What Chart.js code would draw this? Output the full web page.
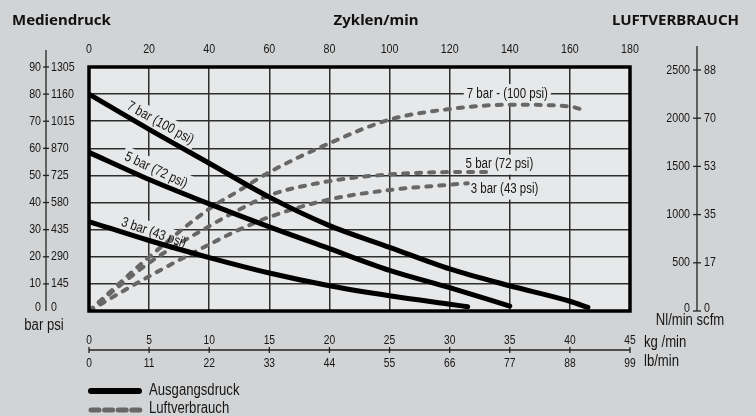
<!DOCTYPE html>
<html>
<head>
<meta charset="utf-8">
<script src="https://cdn.jsdelivr.net/npm/chart.js@4.4.0/dist/chart.umd.min.js"></script>
<style>
  html, body { margin: 0; padding: 0; background: #d2d3d5; }
  #wrap { width: 756px; height: 416px; }
</style>
</head>
<body>
<div id="wrap"><canvas id="pumpChart" width="756" height="416"></canvas></div>
<script>
// Ausgangsdruck (bar) over Zyklen/min, one pair per drive pressure
const cycles7 = [0, 20, 40, 60, 80, 100, 120, 140, 160, 166];
const pressure7 = [80, 67, 54.5, 42, 31.5, 23.5, 15.5, 9.3, 3.6, 1.3];
const cycles5 = [0, 20, 40, 60, 80, 100, 120, 140];
const pressure5 = [58.5, 48.5, 39.5, 31, 23, 15, 8.6, 1.8];
const cycles3 = [0, 20, 40, 60, 80, 100, 120, 126];
const pressure3 = [33, 26, 19.7, 14, 9.3, 5.6, 2.5, 1.6];

// Luftverbrauch (Nl/min) over Zyklen/min
const airCycles7 = [0, 20, 40, 50, 60, 80, 100, 120, 140, 160, 164];
const air7 = [0, 560, 1060, 1250, 1440, 1740, 1985, 2095, 2140, 2122, 2090];
const airCycles5 = [0, 20, 40, 50, 60, 80, 100, 120, 133];
const air5 = [0, 500, 880, 1052, 1200, 1347, 1417, 1441, 1443];
const airCycles3 = [0, 20, 40, 50, 60, 80, 100, 120, 126];
const air3 = [0, 360, 690, 844, 975, 1157, 1255, 1310, 1325];

// axis tick labels
const cycleTicks = [0, 20, 40, 60, 80, 100, 120, 140, 160, 180];
const barTicks = [0, 10, 20, 30, 40, 50, 60, 70, 80, 90];
const psiTicks = ['0', '145', '290', '435', '580', '725', '870', '1015', '1160', '1305'];
const nlTicks = [0, 500, 1000, 1500, 2000, 2500];
const scfmTicks = ['0', '17', '35', '53', '70', '88'];
const kgTicks = [0, 5, 10, 15, 20, 25, 30, 35, 40, 45];
const lbTicks = ['0', '11', '22', '33', '44', '55', '66', '77', '88', '99'];

// curve annotations (positions in cycles / bar)
const curveLabels = [
  { text: '7 bar (100 psi)', x: 23.7, y: 69.3, angle: 29, align: 'center' },
  { text: '5 bar (72 psi)', x: 22.3, y: 51.9, angle: 25, align: 'center' },
  { text: '3 bar (43 psi)', x: 21.5, y: 28.8, angle: 19, align: 'center' },
  { text: '7 bar - (100 psi)', x: 125.7, y: 80, angle: 0, align: 'left' },
  { text: '5 bar (72 psi)', x: 125.3, y: 54, angle: 0, align: 'left' },
  { text: '3 bar (43 psi)', x: 127, y: 44.8, angle: 0, align: 'left' }
];

const PAGE_BG = '#d2d3d5';
const PLOT_BG = '#e7e8e9';
const GRID = '#2e2e2e';
const DASH_COL = '#676767';
const SQUEEZE = 0.82; // condensed look from a regular face
const BOLD = 'bold 15px "Noto Sans", sans-serif';

function pts(xs, ys) {
  return xs.map((x, i) => ({ x: x, y: ys[i] }));
}

function solid(xs, ys) {
  return {
    data: pts(xs, ys), borderColor: '#000', borderWidth: 5, pointRadius: 0,
    cubicInterpolationMode: 'monotone', borderCapStyle: 'round', yAxisID: 'y'
  };
}

function dashed(xs, ys) {
  return {
    data: pts(xs, ys), borderColor: DASH_COL, borderWidth: 4, pointRadius: 0,
    cubicInterpolationMode: 'monotone', borderDash: [5, 8], borderCapStyle: 'round',
    yAxisID: 'yAir'
  };
}

function font(size) {
  return size + 'px "Liberation Sans", Arial, sans-serif';
}

// narrow text: regular face squeezed horizontally
function text(ctx, s, x, y, size, align) {
  ctx.save();
  ctx.translate(x, y);
  ctx.scale(SQUEEZE, 1);
  ctx.font = font(size);
  ctx.textAlign = align || 'left';
  ctx.textBaseline = 'middle';
  ctx.fillStyle = '#161616';
  ctx.fillText(s, 0, 0);
  ctx.restore();
}

function title(ctx, s, x, y, align) {
  ctx.font = BOLD;
  ctx.textAlign = align;
  ctx.textBaseline = 'middle';
  ctx.fillStyle = '#111';
  ctx.fillText(s, x, y);
}

const decor = {
  id: 'decor',
  beforeDraw(chart) {
    const { ctx, chartArea: a } = chart;
    ctx.save();
    ctx.fillStyle = PAGE_BG;
    ctx.fillRect(0, 0, chart.width, chart.height);
    ctx.fillStyle = PLOT_BG;
    ctx.fillRect(a.left, a.top, a.right - a.left, a.bottom - a.top);
    ctx.restore();
  },
  beforeDatasetsDraw(chart) {
    // label boxes break the grid lines
    const { ctx, scales } = chart;
    ctx.save();
    ctx.font = font(14);
    curveLabels.forEach(l => {
      const w = ctx.measureText(l.text).width * SQUEEZE;
      ctx.save();
      ctx.translate(scales.x.getPixelForValue(l.x), scales.y.getPixelForValue(l.y));
      ctx.rotate(l.angle * Math.PI / 180);
      ctx.fillStyle = PLOT_BG;
      const x0 = l.align === 'left' ? -3 : -w / 2 - 3;
      ctx.fillRect(x0, -10, w + 6, 20);
      ctx.restore();
    });
    ctx.restore();
  },
  afterDatasetsDraw(chart) {
    const { ctx, scales, chartArea: a } = chart;
    ctx.save();
    curveLabels.forEach(l => {
      ctx.save();
      ctx.translate(scales.x.getPixelForValue(l.x), scales.y.getPixelForValue(l.y));
      ctx.rotate(l.angle * Math.PI / 180);
      text(ctx, l.text, 0, 0, 14, l.align);
      ctx.restore();
    });
    ctx.strokeStyle = '#000';
    ctx.lineWidth = 3.5;
    ctx.strokeRect(a.left, a.top, a.right - a.left, a.bottom - a.top);
    ctx.restore();
  },
  afterDraw(chart) {
    const { ctx, scales } = chart;
    const xs = scales.x, ys = scales.y, ya = scales.yAir, xk = scales.xKg;
    ctx.save();
    ctx.strokeStyle = '#222';
    ctx.lineWidth = 1.3;

    title(ctx, 'Mediendruck', 12, 21, 'left');
    title(ctx, 'Zyklen/min', 376, 21, 'center');
    title(ctx, 'LUFTVERBRAUCH', 739, 21, 'right');

    // top axis: cycles
    cycleTicks.forEach(v => text(ctx, String(v), xs.getPixelForValue(v), 49, 13, 'center'));

    // left axis: bar / psi
    const lx = 46;
    ctx.beginPath();
    ctx.moveTo(lx, 50);
    ctx.lineTo(lx, ys.getPixelForValue(0));
    ctx.stroke();
    barTicks.forEach((v, i) => {
      const py = ys.getPixelForValue(v);
      if (v > 0) {
        ctx.beginPath();
        ctx.moveTo(lx - 3, py);
        ctx.lineTo(lx + 3, py);
        ctx.stroke();
      }
      const ty = v === 0 ? py - 4 : py;
      text(ctx, String(v), lx - 5, ty, 13, 'right');
      text(ctx, psiTicks[i], lx + 5, ty, 13, 'left');
    });
    text(ctx, 'bar psi', 44, 326, 16, 'center');

    // right axis: Nl/min / scfm
    const rx = 697;
    ctx.beginPath();
    ctx.moveTo(rx, 46);
    ctx.lineTo(rx, ya.getPixelForValue(0));
    ctx.stroke();
    nlTicks.forEach((v, i) => {
      const py = ya.getPixelForValue(v);
      ctx.beginPath();
      ctx.moveTo(rx - 4, py);
      ctx.lineTo(rx + 4, py);
      ctx.stroke();
      const ty = v === 0 ? py - 3 : py;
      text(ctx, String(v), rx - 7, ty, 13, 'right');
      text(ctx, scfmTicks[i], rx + 7, ty, 13, 'left');
    });
    text(ctx, 'Nl/min scfm', 690, 321, 16, 'center');

    // bottom axis: kg/min / lb/min
    const by = 350;
    ctx.beginPath();
    ctx.moveTo(xk.getPixelForValue(0), by);
    ctx.lineTo(xk.getPixelForValue(45), by);
    ctx.stroke();
    kgTicks.forEach((v, i) => {
      const px = xk.getPixelForValue(v);
      ctx.beginPath();
      ctx.moveTo(px, by - 3);
      ctx.lineTo(px, by + 3);
      ctx.stroke();
      text(ctx, String(v), px, 341, 12.5, 'center');
      text(ctx, lbTicks[i], px, 364, 12.5, 'center');
    });
    text(ctx, 'kg /min', 644, 343, 16, 'left');
    text(ctx, 'lb/min', 644, 362, 16, 'left');

    // legend
    ctx.lineCap = 'round';
    ctx.strokeStyle = '#000';
    ctx.lineWidth = 6;
    ctx.beginPath();
    ctx.moveTo(91, 391);
    ctx.lineTo(139, 391);
    ctx.stroke();
    ctx.strokeStyle = DASH_COL;
    ctx.lineWidth = 5;
    for (let i = 0; i < 4; i++) {
      const x0 = 91 + i * 13.6;
      ctx.beginPath();
      ctx.moveTo(x0, 410);
      ctx.lineTo(x0 + 8, 410);
      ctx.stroke();
    }
    text(ctx, 'Ausgangsdruck', 149, 391, 16, 'left');
    text(ctx, 'Luftverbrauch', 149, 409, 16, 'left');
    ctx.restore();
  }
};

new Chart(document.getElementById('pumpChart'), {
  type: 'line',
  data: {
    datasets: [
      solid(cycles7, pressure7),
      solid(cycles5, pressure5),
      solid(cycles3, pressure3),
      dashed(airCycles7, air7),
      dashed(airCycles5, air5),
      dashed(airCycles3, air3)
    ]
  },
  options: {
    responsive: false,
    animation: false,
    layout: { padding: { left: 89, top: 67, right: 126, bottom: 105 } },
    plugins: { legend: { display: false }, tooltip: { enabled: false } },
    scales: {
      x: {
        type: 'linear', min: 0, max: 180,
        ticks: { stepSize: 20, display: false },
        grid: { color: GRID, lineWidth: 1.5, drawTicks: false },
        border: { display: false },
        afterFit: s => { s.height = 0; }
      },
      y: {
        type: 'linear', min: 0, max: 90,
        ticks: { stepSize: 10, display: false },
        grid: { color: GRID, lineWidth: 1.5, drawTicks: false },
        border: { display: false },
        afterFit: s => { s.width = 0; }
      },
      yAir: { type: 'linear', axis: 'y', position: 'right', min: 0, max: 2531, display: false },
      xKg: { type: 'linear', axis: 'x', position: 'bottom', min: 0, max: 45, display: false }
    }
  },
  plugins: [decor]
});
</script>
</body>
</html>
